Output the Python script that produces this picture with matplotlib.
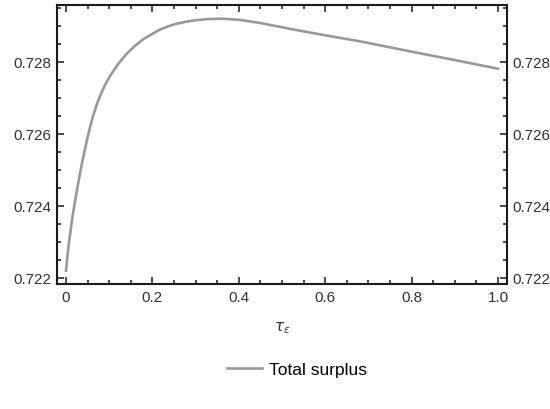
import matplotlib
matplotlib.use('Agg')
import matplotlib.pyplot as plt
from matplotlib.ticker import MultipleLocator

# values
tau = [0.0, 0.004, 0.008, 0.014, 0.021, 0.029, 0.038, 0.048, 0.056, 0.063,
       0.071, 0.079, 0.090, 0.102, 0.120, 0.140, 0.160, 0.179, 0.200, 0.218,
       0.237, 0.256, 0.280, 0.302, 0.330, 0.360, 0.400, 0.450, 0.526, 0.604,
       0.681, 0.789, 0.900, 1.0]
surplus = [0.72220, 0.72268, 0.72308, 0.72361, 0.72414, 0.72468, 0.72524,
           0.72580, 0.72620, 0.72651, 0.72681, 0.72706, 0.72735, 0.72761,
           0.72793, 0.72822, 0.72845, 0.72863, 0.72878, 0.72890, 0.72899,
           0.72906, 0.72912, 0.72916, 0.72919, 0.72920, 0.72917, 0.72908,
           0.72890, 0.72873, 0.72857, 0.72831, 0.72805, 0.72781]

LINE = '#999999'
FRAME = '#1a1a1a'
LABEL = '#333333'

plt.rcParams['font.family'] = ['Liberation Sans', 'DejaVu Sans']
plt.rcParams['font.size'] = 11

fig = plt.figure(figsize=(5.5, 4.1), dpi=100)
ax = fig.add_axes([57 / 550, 1 - 285 / 410, 450 / 550, 279 / 410])

ax.plot(tau, surplus, color=LINE, linewidth=1.9, label='Total surplus',
        solid_joinstyle='round')

ax.set_xlim(-0.0208, 1.0208)
ax.set_ylim(0.72183, 0.72958)
ax.xaxis.set_major_locator(MultipleLocator(0.2))
ax.xaxis.set_minor_locator(MultipleLocator(0.05))
ax.yaxis.set_major_locator(MultipleLocator(0.002))
ax.yaxis.set_minor_locator(MultipleLocator(0.0005))
ax.xaxis.set_major_formatter(lambda v, p: f'{v:.1f}' if abs(v) > 1e-9 else '0')
ax.yaxis.set_major_formatter(lambda v, p: f'{v:.3f}')

for s in ax.spines.values():
    s.set_color(FRAME)
    s.set_linewidth(1.5)
ax.tick_params(which='both', direction='in', top=True, right=True,
               labelright=True, color=FRAME, labelcolor=LABEL, width=1.1)
ax.tick_params(which='major', length=5, pad=4)
ax.tick_params(which='minor', length=3)

ax.set_xlabel(r'$\tau_\epsilon$', color=LABEL, labelpad=11, fontsize=11)
fig.legend(loc='center', bbox_to_anchor=(297 / 550, 1 - 370 / 410),
           frameon=False, handlelength=2.0, handletextpad=0.4, fontsize=12.5)

fig.savefig('out.png')
